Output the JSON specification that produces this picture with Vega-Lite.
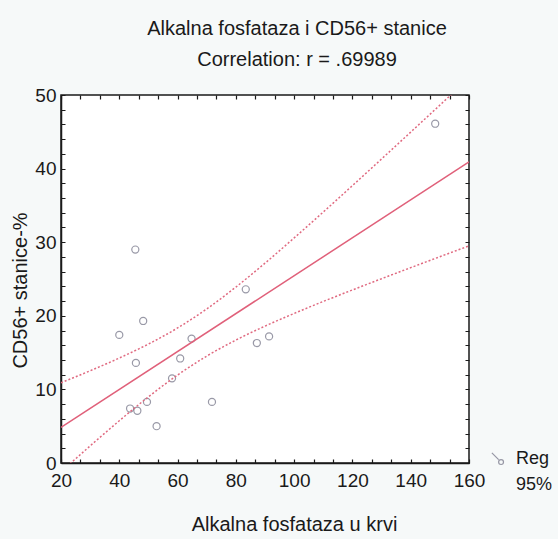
{
  "$schema": "https://vega.github.io/schema/vega-lite/v6.json",
  "width": 408,
  "height": 368,
  "autosize": {"type": "none"},
  "padding": {"left": 61, "top": 95, "right": 89, "bottom": 76},
  "background": "#f6f9f9",
  "config": {
    "font": "Liberation Sans",
    "view": {"stroke": "#1a1a1a", "strokeWidth": 1.5, "fill": "white"}
  },
  "title": {
    "text": "Alkalna fosfataza i CD56+ stanice",
    "subtitle": "Correlation: r = .69989",
    "fontSize": 20,
    "subtitleFontSize": 20,
    "font": "Liberation Sans",
    "subtitleFont": "Liberation Sans",
    "fontWeight": "normal",
    "color": "#1a1a1a",
    "subtitleColor": "#1a1a1a",
    "anchor": "middle",
    "dx": 32,
    "offset": 16,
    "subtitlePadding": 11
  },
  "data": {
    "values": [
      {"s": "pt", "x": 148.4, "y": 46.1},
      {"s": "pt", "x": 45.5, "y": 29.0},
      {"s": "pt", "x": 83.4, "y": 23.6},
      {"s": "pt", "x": 48.2, "y": 19.3},
      {"s": "pt", "x": 40.0, "y": 17.4},
      {"s": "pt", "x": 64.8, "y": 16.9},
      {"s": "pt", "x": 87.2, "y": 16.3},
      {"s": "pt", "x": 91.4, "y": 17.2},
      {"s": "pt", "x": 45.7, "y": 13.6},
      {"s": "pt", "x": 60.9, "y": 14.2},
      {"s": "pt", "x": 58.1, "y": 11.5},
      {"s": "pt", "x": 49.5, "y": 8.3},
      {"s": "pt", "x": 71.8, "y": 8.3},
      {"s": "pt", "x": 43.7, "y": 7.4},
      {"s": "pt", "x": 46.2, "y": 7.1},
      {"s": "pt", "x": 52.8, "y": 5.0},
      {"s": "fit", "x": 20, "y": 4.85},
      {"s": "fit", "x": 160, "y": 40.9},
      {"s": "hi", "x": 20, "y": 10.9},
      {"s": "hi", "x": 30, "y": 12.53},
      {"s": "hi", "x": 40, "y": 14.26},
      {"s": "hi", "x": 50, "y": 16.16},
      {"s": "hi", "x": 60, "y": 18.35},
      {"s": "hi", "x": 70, "y": 20.93},
      {"s": "hi", "x": 80, "y": 23.9},
      {"s": "hi", "x": 90, "y": 27.15},
      {"s": "hi", "x": 100, "y": 30.58},
      {"s": "hi", "x": 110, "y": 34.1},
      {"s": "hi", "x": 120, "y": 37.69},
      {"s": "hi", "x": 130, "y": 41.31},
      {"s": "hi", "x": 140, "y": 44.96},
      {"s": "hi", "x": 150, "y": 48.62},
      {"s": "hi", "x": 160, "y": 52.3},
      {"s": "lo", "x": 20, "y": -1.2},
      {"s": "lo", "x": 30, "y": 2.32},
      {"s": "lo", "x": 40, "y": 5.74},
      {"s": "lo", "x": 50, "y": 8.99},
      {"s": "lo", "x": 60, "y": 11.95},
      {"s": "lo", "x": 70, "y": 14.52},
      {"s": "lo", "x": 80, "y": 16.7},
      {"s": "lo", "x": 90, "y": 18.6},
      {"s": "lo", "x": 100, "y": 20.32},
      {"s": "lo", "x": 110, "y": 21.95},
      {"s": "lo", "x": 120, "y": 23.51},
      {"s": "lo", "x": 130, "y": 25.04},
      {"s": "lo", "x": 140, "y": 26.54},
      {"s": "lo", "x": 150, "y": 28.03},
      {"s": "lo", "x": 160, "y": 29.5}
    ]
  },
  "encoding": {
    "x": {
      "field": "x", "type": "quantitative",
      "scale": {"domain": [20, 160], "nice": false, "zero": false},
      "axis": {
        "orient": "bottom", "domain": true, "domainColor": "#1a1a1a", "domainWidth": 1.5,
        "values": [20, 26.6667, 33.3333, 40, 46.6667, 53.3333, 60, 66.6667, 73.3333, 80, 86.6667, 93.3333, 100, 106.6667, 113.3333, 120, 126.6667, 133.3333, 140, 146.6667, 153.3333, 160],
        "labelExpr": "datum.value % 20 === 0 ? format(datum.value, 'd') : ''",
        "labelOverlap": false, "labelFlush": false,
        "ticks": false, "tickSize": 0,
        "labelFontSize": 19, "labelColor": "#1a1a1a", "labelPadding": 8,
        "grid": true, "gridColor": "#1a1a1a", "gridWidth": 1.2, "gridOpacity": 1, "gridDash": [4, 360, 4, 1000],
        "title": "Alkalna fosfataza u krvi", "titleFontSize": 20, "titleFontWeight": "normal", "titleColor": "#1a1a1a",
        "titleX": 233, "titleY": 67, "titleBaseline": "alphabetic", "titleAlign": "center"
      }
    },
    "y": {
      "field": "y", "type": "quantitative",
      "scale": {"domain": [0, 50], "nice": false, "zero": false},
      "axis": {
        "orient": "left", "domain": true, "domainColor": "#1a1a1a", "domainWidth": 1.5,
        "values": [0, 2, 4, 6, 8, 10, 12, 14, 16, 18, 20, 22, 24, 26, 28, 30, 32, 34, 36, 38, 40, 42, 44, 46, 48, 50],
        "labelExpr": "datum.value % 10 === 0 ? format(datum.value, 'd') : ''",
        "labelOverlap": false, "labelFlush": false,
        "ticks": false, "tickSize": 0,
        "labelFontSize": 19, "labelColor": "#1a1a1a", "labelPadding": 5,
        "grid": true, "gridColor": "#1a1a1a", "gridWidth": 1.2, "gridOpacity": 1, "gridDash": [4, 400, 4, 1000],
        "title": "CD56+ stanice-%", "titleFontSize": 20, "titleFontWeight": "normal", "titleColor": "#1a1a1a",
        "titleX": -41, "titleY": 195, "titleAngle": -90, "titleBaseline": "middle", "titleAlign": "center"
      }
    }
  },
  "layer": [
    {
      "transform": [{"filter": "datum.s === 'pt'"}],
      "mark": {"type": "point", "size": 50, "strokeWidth": 1.2},
      "encoding": {
        "color": {
          "datum": "Reg", "type": "nominal",
          "scale": {"domain": ["Reg"], "range": ["#6e6e82"]},
          "legend": {
            "orient": "none", "legendX": 428, "legendY": 355,
            "title": null, "padding": 0,
            "labelFontSize": 18, "labelColor": "#1a1a1a", "labelOffset": 9,
            "symbolType": "M-1,-1L0.1,0.1M0.9,0.5A0.4,0.4 0 1,1 0.1,0.5A0.4,0.4 0 1,1 0.9,0.5",
            "symbolSize": 150, "symbolStrokeWidth": 1.2, "symbolFillColor": "transparent"
          }
        }
      }
    },
    {
      "transform": [{"filter": "datum.s === 'fit'"}],
      "mark": {"type": "line", "color": "#e0607a", "strokeWidth": 1.5, "clip": true},
      "encoding": {}
    },
    {
      "transform": [{"filter": "datum.s === 'hi' || datum.s === 'lo'"}],
      "mark": {"type": "line", "color": "#e06a80", "strokeWidth": 1.5, "clip": true, "interpolate": "monotone"},
      "encoding": {
        "detail": {"field": "s", "type": "nominal"},
        "strokeDash": {
          "datum": "95%", "type": "nominal",
          "scale": {"domain": ["95%"], "range": [[2, 2]]},
          "legend": {
            "orient": "none", "legendX": 428, "legendY": 381,
            "title": null, "padding": 0,
            "labelFontSize": 18, "labelColor": "#1a1a1a", "labelOffset": 9,
            "symbolType": "circle", "symbolSize": 150, "symbolOpacity": 0, "symbolStrokeWidth": 0
          }
        }
      }
    }
  ]
}
